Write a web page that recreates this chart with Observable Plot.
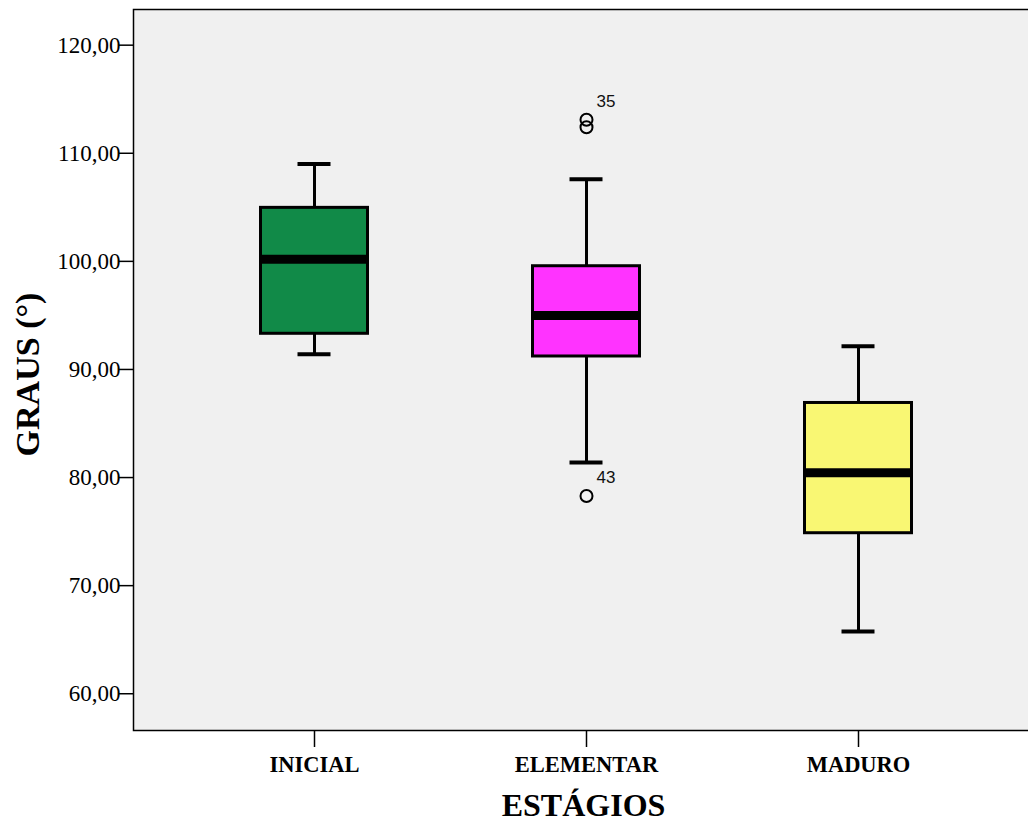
<!DOCTYPE html>
<html>
<head>
<meta charset="utf-8">
<script src="https://cdn.jsdelivr.net/npm/d3@7"></script>
<script src="https://cdn.jsdelivr.net/npm/@observablehq/plot@0.6"></script>
<style>
  html, body { margin: 0; padding: 0; background: #ffffff; overflow: hidden; }
  #chart svg { display: block; max-width: none !important; }
</style>
</head>
<body>
<div id="chart"></div>
<script>
// Angle (degrees) by developmental stage: box-plot summary per stage
const stages = ["INICIAL", "ELEMENTAR", "MADURO"];
const whiskerLow  = [91.4, 81.4, 65.75];
const quartile1   = [93.3, 91.2, 74.85];
const medians     = [100.2, 95.0, 80.45];
const quartile3   = [104.95, 99.55, 86.9];
const whiskerHigh = [109.0, 107.6, 92.15];
const boxColors   = ["#118a48", "#ff33ff", "#f9f773"];

// Outlying cases with their case numbers
const outlierStage = ["ELEMENTAR", "ELEMENTAR", "ELEMENTAR"];
const outlierValue = [113.1, 112.4, 78.3];
const outlierCase  = ["35", "", "43"];

const yTicks = [60, 70, 80, 90, 100, 110, 120];
const fmt = d => d.toFixed(2).replace(".", ",");

const boxes = stages.map((s, i) => ({
  stage: s,
  low: whiskerLow[i], q1: quartile1[i], median: medians[i],
  q3: quartile3[i], high: whiskerHigh[i]
}));
const outliers = outlierValue.map((v, i) => ({
  stage: outlierStage[i], value: v, id: outlierCase[i]
}));

const serif = "'Liberation Serif', 'Times New Roman', serif";

const chart = Plot.plot({
  width: 1039,
  height: 823,
  marginLeft: 133,
  marginRight: 0,
  marginTop: 9,
  marginBottom: 93,
  style: { fontFamily: serif, background: "#ffffff", overflow: "visible" },
  x: { domain: stages, paddingInner: 0, paddingOuter: 0.165, axis: null },
  y: { domain: [56.6, 123.3], axis: null },
  color: { domain: stages, range: boxColors },
  marks: [
    Plot.frame({ fill: "#f0f0f0", stroke: null }),
    // whiskers and caps
    Plot.ruleX(boxes, { x: "stage", y1: "low", y2: "high", stroke: "black", strokeWidth: 3 }),
    Plot.tickY(boxes, { x: "stage", y: "low", stroke: "black", strokeWidth: 4, insetLeft: 119.5, insetRight: 119.5 }),
    Plot.tickY(boxes, { x: "stage", y: "high", stroke: "black", strokeWidth: 4, insetLeft: 119.5, insetRight: 119.5 }),
    // boxes
    Plot.barY(boxes, {
      x: "stage", y1: "q1", y2: "q3", fill: "stage",
      stroke: "black", strokeWidth: 3, insetLeft: 82.5, insetRight: 82.5
    }),
    // medians
    Plot.tickY(boxes, { x: "stage", y: "median", stroke: "black", strokeWidth: 9, insetLeft: 81, insetRight: 81 }),
    // outliers
    Plot.dot(outliers, { x: "stage", y: "value", r: 6, stroke: "black", strokeWidth: 2, fill: "none" }),
    Plot.text(outliers, {
      x: "stage", y: "value", text: "id", dx: 10, dy: -18, textAnchor: "start",
      fontFamily: "'Liberation Sans', Arial, sans-serif", fontSize: 17, fill: "#111"
    }),
    Plot.frame({ stroke: "black", strokeWidth: 1.5 }),
    // axes
    Plot.axisY(yTicks, {
      tickFormat: fmt, tickSize: 14, tickPadding: -1, fontSize: 23,
      strokeWidth: 1.5, stroke: "black", fill: "black", label: null
    }),
    Plot.axisX(stages, {
      tickSize: 17, tickPadding: 9, fontSize: 22.5, fontWeight: "bold",
      strokeWidth: 1.5, stroke: "black", fill: "black", label: null
    }),
    Plot.text(["GRAUS (°)"], {
      frameAnchor: "left", dx: -105.5, dy: 4.5, rotate: -90,
      textAnchor: "middle", lineAnchor: "middle",
      fontSize: 34, fontWeight: "bold", fill: "black", fontFamily: serif
    }),
    Plot.text(["ESTÁGIOS"], {
      frameAnchor: "bottom", dx: -3, dy: 75,
      textAnchor: "middle", lineAnchor: "middle",
      fontSize: 32, fontWeight: "bold", fill: "black", fontFamily: serif
    })
  ]
});

document.getElementById("chart").appendChild(chart);
</script>
</body>
</html>
